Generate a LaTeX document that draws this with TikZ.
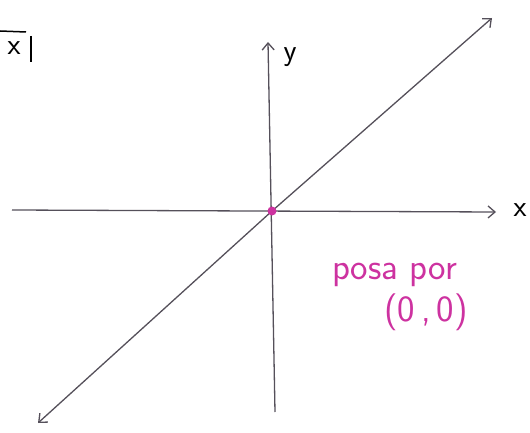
\documentclass[tikz,border=0pt]{standalone}
\usepackage{xcolor}
\usepackage{tikz}
\usetikzlibrary{arrows.meta}
\definecolor{inkgray}{RGB}{85,80,90}
\definecolor{inkpink}{RGB}{205,50,160}
\newcommand{\NoteFont}{\fontsize{37}{44}\selectfont\sffamily}

\begin{document}
\begin{tikzpicture}[x=1pt,y=-1pt,
    axisline/.style={draw=inkgray,line width=1.3pt,-{Straight Barb[length=7pt,width=12pt]}},
    axislabel/.style={inner sep=0pt,font=\fontsize{30}{30}\selectfont\sffamily}]
        \useasboundingbox (0,0) rectangle (530,433);
        % axes
        \coordinate (origin) at (272,211);
        \coordinate (xstart) at (12,210);
        \coordinate (xend) at (496,212);
        \coordinate (ystart) at (275,412);
        \coordinate (yend) at (268,42);
        \coordinate (lineA) at (38,423);
        \coordinate (lineB) at (492,18);
        \draw[axisline] (xstart) -- (xend);
        \draw[axisline] (ystart) -- (yend);
        \draw[axisline,{Straight Barb[length=7pt,width=12pt]}-{Straight Barb[length=7pt,width=12pt]}] (lineA) -- (origin) -- (lineB);
        \node[axislabel] (xlab) at (520,210) {x};
        \node[axislabel] (ylab) at (290,57) {y};
        \fill[inkpink] (origin) circle (4.5pt);
        % boxed label
        \node[axislabel] (boxx) at (14,48) {x};
        \draw[black,line width=1.5pt] (0,31) -- (26,32);
        \draw[black,line width=1.5pt] (31,36) -- (31,62);
        % note
        \node[text=inkpink,font=\NoteFont,inner sep=0pt,align=left] (note) at (400,297)
          {posa por\\[-2pt]\hspace*{52pt}(0\,,\,0)};
      \end{tikzpicture}
\end{document}
